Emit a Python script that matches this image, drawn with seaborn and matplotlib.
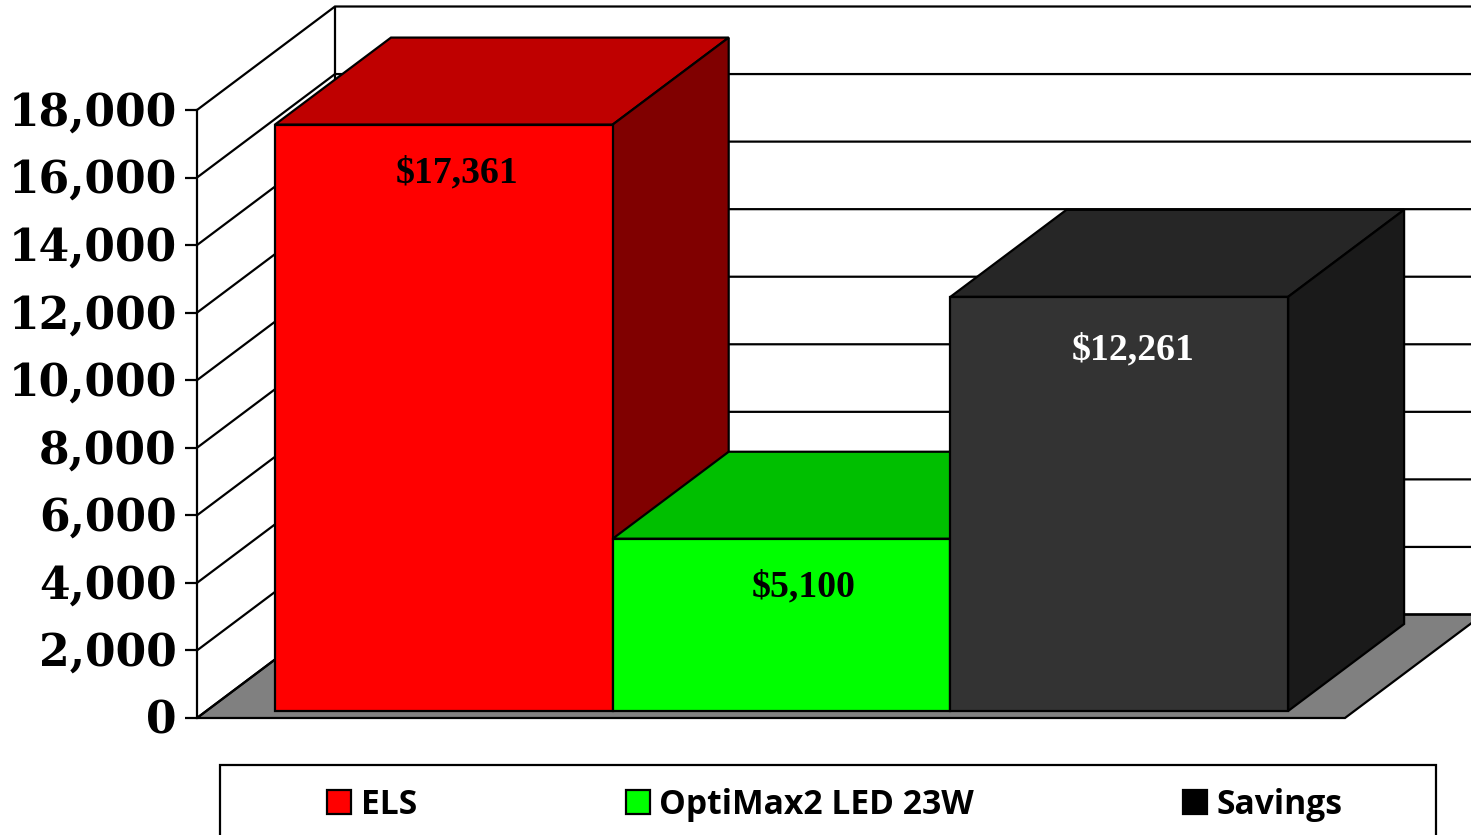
import matplotlib
matplotlib.use("Agg")
import matplotlib.pyplot as plt
from matplotlib.patches import Polygon, Patch, Rectangle
from matplotlib.transforms import Affine2D
import pandas as pd
import seaborn as sns

categories = ["ELS", "OptiMax2 LED 23W", "Savings"]
values = [17361, 5100, 12261]
value_labels = ["$17,361", "$5,100", "$12,261"]
tick_values = [0, 2000, 4000, 6000, 8000, 10000, 12000, 14000, 16000, 18000]
tick_labels = ["0", "2,000", "4,000", "6,000", "8,000", "10,000", "12,000", "14,000", "16,000", "18,000"]

front_colors = ["#FF0000", "#00FF00", "#333333"]
top_colors = ["#BF0000", "#00BF00", "#262626"]
side_colors = ["#800000", "#008000", "#1A1A1A"]
legend_colors = ["#FF0000", "#00FF00", "#000000"]
label_colors = ["black", "black", "white"]
label_dx = [13, 22, 14]
label_dy = [-48, -48, -53]

W, H = 1471, 835
PX_PER_CAT = 337.7
PX_PER_VAL = 608 / 18000
BAR_LEFT_PX, BASE_PX = 275, 711
DX = 116 / PX_PER_CAT      # depth shift of a bar, category units
DV = 87 / PX_PER_VAL       # depth shift of a bar, value units
Z_FRONT, Z_BACK = -7 / 87, 96.5 / 87
X_LEFT = -0.5 - (275 - 197 - 9.3) / PX_PER_CAT
X_RIGHT = X_LEFT + 1148 / PX_PER_CAT
LW = 1.6


def proj(x, v, z):
    return (x + z * DX, v + z * DV)


sns.set_theme(style="white")
fig = plt.figure(figsize=(W / 100, H / 100), dpi=100, facecolor="white")
ax = fig.add_axes([0, 0, 1, 1])

df = pd.DataFrame({"item": categories, "value": values})
sns.barplot(data=df, x="item", y="value", hue="item", order=categories, hue_order=categories,
            palette=front_colors, width=1, dodge=False, legend=False, saturation=1,
            edgecolor="black", linewidth=LW, ax=ax)

ax.set_xlim(-0.5 - BAR_LEFT_PX / PX_PER_CAT, -0.5 + (W - BAR_LEFT_PX) / PX_PER_CAT)
ax.set_ylim((BASE_PX - H) / PX_PER_VAL, BASE_PX / PX_PER_VAL)
ax.set_axis_off()

# floor
ax.add_patch(Polygon([proj(X_LEFT, 0, Z_FRONT), proj(X_RIGHT, 0, Z_FRONT),
                      proj(X_RIGHT, 0, Z_BACK), proj(X_LEFT, 0, Z_BACK)],
                     closed=True, facecolor="#808080", edgecolor="black", lw=LW, zorder=1))

# walls and gridlines
for t in tick_values:
    a, b, c = proj(X_LEFT, t, Z_FRONT), proj(X_LEFT, t, Z_BACK), proj(X_RIGHT, t, Z_BACK)
    ax.plot([a[0], b[0], c[0]], [a[1], b[1], c[1]], color="black", lw=LW, zorder=1.5,
            solid_joinstyle="miter")
b0, b1 = proj(X_LEFT, 0, Z_BACK), proj(X_LEFT, tick_values[-1], Z_BACK)
ax.plot([b0[0], b1[0]], [b0[1], b1[1]], color="black", lw=LW, zorder=1.5)

# 3-D faces of the bars
for i, (val, bar) in enumerate(zip(values, ax.patches)):
    x0, x1 = i - 0.5, i + 0.5
    ax.add_patch(Polygon([proj(x0, val, 0), proj(x1, val, 0), proj(x1, val, 1), proj(x0, val, 1)],
                         closed=True, facecolor=top_colors[i], edgecolor="black", lw=LW, zorder=3 + i))
    ax.add_patch(Polygon([proj(x1, 0, 0), proj(x1, val, 0), proj(x1, val, 1), proj(x1, 0, 1)],
                         closed=True, facecolor=side_colors[i], edgecolor="black", lw=LW, zorder=3 + i))
    bar.set_zorder(3.5 + i)
    ax.annotate(value_labels[i], xy=(i, val), xytext=(label_dx[i], label_dy[i]),
                textcoords="offset pixels", ha="center", va="center", color=label_colors[i],
                fontsize=27.2, fontweight="bold", family="Liberation Serif", zorder=8)

# value axis on the front edge of the left wall
ay = fig.add_axes([197 / W, (H - 718) / H, 1148 / W, 608 / H], facecolor="none", zorder=5)
ay.set_ylim(0, 18000)
ay.set_yticks(tick_values)
ay.set_yticklabels(tick_labels, family="DejaVu Serif", fontweight="bold", fontsize=31.7, color="black")
ay.set_xticks([])
for name, spine in ay.spines.items():
    spine.set_visible(name == "left")
ay.spines["left"].set_linewidth(LW)
ay.spines["left"].set_color("black")
ay.tick_params(axis="y", left=True, length=8.6, width=LW, color="black", pad=6)
for lab in ay.get_yticklabels():
    lab.set_transform(lab.get_transform() + Affine2D().translate(0, 1.5))

# legend box and legend
fig.add_artist(Rectangle((220 / W, -0.1), (1436 - 220) / W, 0.1 + (H - 765) / H, transform=fig.transFigure,
                         facecolor="white", edgecolor="black", lw=LW))
FS = 24.2
FS_PX = FS * 100 / 72
handles = [Patch(facecolor=c, edgecolor="black", lw=LW, label=n) for c, n in zip(legend_colors, categories)]
leg = fig.legend(handles=handles, ncol=3, loc="center left", bbox_to_anchor=(327 / W, (H - 804.5) / H),
                 frameon=False, borderpad=0, borderaxespad=0,
                 handlelength=24 / FS_PX, handleheight=24 / FS_PX, handletextpad=9.5 / FS_PX,
                 columnspacing=209 / FS_PX,
                 prop={"family": "Open Sans", "weight": "bold", "size": FS})
for t in leg.get_texts():
    t.set_color("black")

fig.savefig("out.png", dpi=100)
